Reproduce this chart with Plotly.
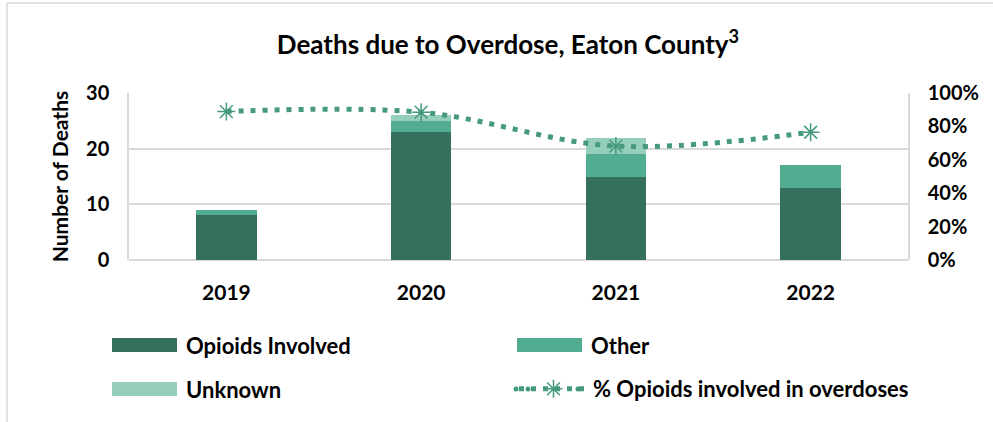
import plotly.graph_objects as go

years = ["2019", "2020", "2021", "2022"]
opioids = [8, 23, 15, 13]
other = [1, 2, 4, 4]
unknown = [0, 1, 3, 0]
pct_opioids = [0.889, 0.885, 0.682, 0.765]

C_OPI = "#35705F"
C_OTH = "#51AC91"
C_UNK = "#96CEBC"
C_LINE = "#45997E"
GRID = "#d9d9d9"
FONT = "Lato"

W, H = 993, 422
# plot area in pixels: x 129..908, y 93..260
L, R, T, B = 129, W - 908, 93, H - 260
pw, ph = W - L - R, H - T - B


def px(x):
    return (x - L) / pw


def py(y):
    return (H - B - y) / ph


fig = go.Figure()
fig.add_bar(x=years, y=opioids, name="Opioids Involved", marker_color=C_OPI, marker_line_width=0,
            showlegend=False)
fig.add_bar(x=years, y=other, name="Other", marker_color=C_OTH, marker_line_width=0, showlegend=False)
fig.add_bar(x=years, y=unknown, name="Unknown", marker_color=C_UNK, marker_line_width=0,
            showlegend=False)
fig.add_scatter(x=years, y=pct_opioids, yaxis="y2", name="% Opioids involved in overdoses",
                mode="lines+markers",
                line=dict(color=C_LINE, width=5, dash="5px,7px", shape="spline", smoothing=1),
                marker=dict(symbol="asterisk-open", size=15, color=C_LINE,
                            line=dict(color=C_LINE, width=1.5)),
                showlegend=True)

# chart-area frame (only top and left edges fall inside the picture)
shapes = [
    dict(type="line", xref="paper", yref="paper", x0=px(7), x1=px(7), y0=py(3), y1=py(430),
         line=dict(color=GRID, width=1.5)),
    dict(type="line", xref="paper", yref="paper", x0=px(7), x1=px(1000), y0=py(3), y1=py(3),
         line=dict(color=GRID, width=1.5)),
]
annotations = []
legend_items = [("Opioids Involved", C_OPI, 112, 345), ("Other", C_OTH, 517, 345),
                ("Unknown", C_UNK, 112, 389)]
for name, col, x0, yc in legend_items:
    shapes.append(dict(type="rect", xref="paper", yref="paper", x0=px(x0), x1=px(x0 + 65),
                       y0=py(yc + 7), y1=py(yc - 7), line=dict(width=0), fillcolor=col))
    annotations.append(dict(text=name, xref="paper", yref="paper", x=px(x0 + 72), y=py(yc),
                            xanchor="left", yanchor="middle", showarrow=False,
                            font=dict(family=FONT, size=22, color="#000", weight="bold")))
# extra dots extending the line-legend sample to the left and right
for dx in (516, 528, 578):
    shapes.append(dict(type="circle", xref="paper", yref="paper", x0=px(dx - 2.5), x1=px(dx + 2.5),
                       y0=py(389 + 2.5), y1=py(389 - 2.5), line=dict(width=0), fillcolor=C_LINE))

fig.update_layout(
    width=W, height=H,
    margin=dict(l=L, r=R, t=T, b=B),
    paper_bgcolor="white", plot_bgcolor="white",
    barmode="stack", bargap=0.69,
    title=dict(text="Deaths due to Overdose, Eaton County<sup>3</sup>", x=508 / W,
               xanchor="center", y=1 - 45 / H, yanchor="middle",
               font=dict(family=FONT, size=26, color="#000", weight="bold")),
    font=dict(family=FONT, color="#000"),
    xaxis=dict(showline=False, ticks="", tickfont=dict(size=21, weight="bold"), ticklabelstandoff=18),
    yaxis=dict(range=[0, 30], dtick=10, gridcolor=GRID, gridwidth=1.5, zeroline=True,
               zerolinecolor=GRID, zerolinewidth=1.5, showline=True, linecolor=GRID, linewidth=1.5,
               tickfont=dict(size=20, weight="bold"), ticklabelstandoff=14,
               title=dict(text="Number of Deaths", font=dict(size=21, weight="bold"), standoff=12)),
    yaxis2=dict(range=[0, 1], dtick=0.2, tickformat=".0%", overlaying="y", side="right",
                showgrid=False, zeroline=False, showline=True, linecolor=GRID, linewidth=1.5,
                tickfont=dict(size=20, weight="bold"), ticklabelstandoff=14),
    legend=dict(x=px(514), y=py(389), xanchor="left", yanchor="middle", bgcolor="rgba(0,0,0,0)",
                font=dict(family=FONT, size=22, weight="bold", color="#000"), itemwidth=69),
    shapes=shapes, annotations=annotations,
)
fig.write_html("out.html", config={"displayModeBar": False},
               post_script="document.body.style.margin='0';document.body.style.overflow='hidden';")
